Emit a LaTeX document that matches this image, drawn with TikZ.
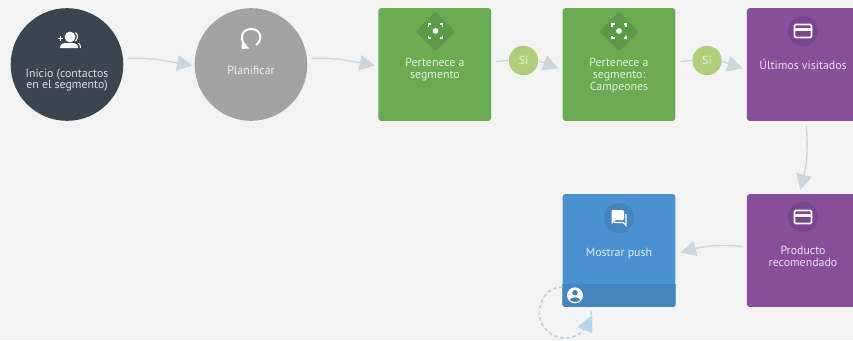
\documentclass[tikz,border=0pt]{standalone}
\usepackage{fontspec}
\setmainfont{PT Sans}
\usetikzlibrary{arrows.meta,shapes.geometric,calc}
\definecolor{bgc}{HTML}{F3F3F3}
\definecolor{darkc}{HTML}{3B454E}
\definecolor{greyc}{HTML}{A3A3A3}
\definecolor{greenc}{HTML}{6AAB51}
\definecolor{greend}{HTML}{5B9A48}
\definecolor{purplec}{HTML}{874F99}
\definecolor{purpled}{HTML}{7A4590}
\definecolor{bluec}{HTML}{4B91D1}
\definecolor{blued}{HTML}{4585BE}
\definecolor{yesc}{HTML}{AFCF7C}
\definecolor{linec}{HTML}{CDD6DC}
\definecolor{loopc}{HTML}{C3D2DA}
\definecolor{headc}{HTML}{B3D8E8}
\tikzset{
  x=0.75pt,y=-0.75pt,
  circ/.style={circle,draw=none,minimum size=84.5pt,inner sep=0pt},
  card/.style={rectangle,draw=none,minimum width=84.5pt,minimum height=84.5pt,inner sep=0pt,rounded corners=2pt},
  lab/.style={align=center,text=white,text opacity=.82,font=\fontsize{8.9}{8.8}\selectfont,inner sep=0pt},
  yes/.style={circle,draw=none,fill=yesc,minimum size=22pt,inner sep=0pt,text=white,text opacity=.7,font=\fontsize{8.7}{9}\selectfont},
  conn/.style={draw=linec,line width=1pt,-{Triangle[length=11.5pt,width=11.5pt,fill=linec]}},
  connb/.style={draw=linec,line width=1pt},
  badge/.style={circle,draw=none,minimum size=22.5pt,inner sep=0pt},
  gem/.style={diamond,draw=none,fill=greend,minimum width=29.5pt,minimum height=29.5pt,inner sep=0pt,rounded corners=1pt},
  ico/.style={draw=white,line width=1pt},
}
\newcommand{\cardicon}[1]{%
  \begin{scope}[shift={(#1)}]
    \draw[white,line width=1.2pt,rounded corners=1pt] (-8.5,-6.5) rectangle (8.5,6.5);
    \fill[white] (-8.5,-3.5) rectangle (8.5,0);
  \end{scope}}
\newcommand{\targeticon}[1]{%
  \begin{scope}[shift={(#1)}]
    \fill[white] (0,0) circle (2.9);
    \draw[ico] (-7,-4.5) -- (-7,-7) -- (-4.5,-7);
    \draw[ico] (7,-4.5) -- (7,-7) -- (4.5,-7);
    \draw[ico] (-7,4.5) -- (-7,7) -- (-4.5,7);
    \draw[ico] (7,4.5) -- (7,7) -- (4.5,7);
  \end{scope}}
\begin{document}
\begin{tikzpicture}
\useasboundingbox (0,0) rectangle (853,340);
\clip (0,0) rectangle (853,340);
\fill[bgc] (0,0) rectangle (853,340);

% main shapes
\node[circ,fill=darkc] (start) at (67,64.5) {};
\node[circ,fill=greyc] (plan) at (251,64.5) {};
\node[card,fill=greenc] (seg1) at (434.7,64.5) {};
\node[card,fill=greenc] (seg2) at (619,64.5) {};
\node[card,fill=purplec] (last) at (803.3,64.5) {};
\node[card,fill=purplec] (prod) at (803.3,250.5) {};
\node[card,fill=bluec] (push) at (619,250.5) {};
\begin{scope}
  \clip[rounded corners=2pt] (push.south west) rectangle (push.north east);
  \fill[blued] (push.south west) rectangle ($(push.south east)+(0,-23)$);
\end{scope}

% icon plates
\node[gem] (gem1) at (435.5,31.5) {};
\node[gem] (gem2) at (619,31.5) {};
\node[badge,fill=purpled] (bl) at (803,31) {};
\node[badge,fill=purpled] (bp) at (803,217) {};
\node[badge,fill=blued] (bm) at (619,218) {};

% icons
\targeticon{435.5,31}
\targeticon{619,31}
\cardicon{803,31}
\cardicon{803,217}
% contacts icon
\fill[white] (70,37) circle (5.4);
\fill[white] (60,48) .. controls (60,42.5) and (64,43) .. (70,43) .. controls (75,43) and (78,43.5) .. (78,48) -- cycle;
\draw[white,line width=0.8pt] (75.5,32.5) .. controls (78,34) and (78,39) .. (75.5,41);
\draw[white,line width=0.8pt] (78.5,43) .. controls (80,44) and (80.5,46) .. (80.5,48);
\draw[white,line width=0.9pt] (57.5,38.5) -- (63,38.5) (60.2,35.8) -- (60.2,41.2);
% replan icon
\draw[white,line width=1.5pt] (246,45.5) .. controls (240,42) and (240,29) .. (251,29) .. controls (262,29) and (262.5,41) .. (256,45);
\fill[white] (241.5,49) -- (242,41.5) -- (249.5,48.5) -- cycle;
% push icon
\fill[white,rounded corners=0.8pt] (611.5,210) rectangle (624,220);
\fill[white] (611.5,219) -- (611.5,224) -- (616,220) -- cycle;
\draw[white,line width=0.9pt] (626,214) -- (626,225.5) -- (623,222.5) -- (614,222.5);
% user icon
\fill[white] (575,295.3) circle (8);
\fill[bluec!88!black] (575,292.7) circle (2.7);
\fill[bluec!88!black] (569.8,300) .. controls (570.5,296.5) and (579.5,296.5) .. (580.2,300) .. controls (578,302.5) and (572,302.5) .. (569.8,300) -- cycle;

% labels
\node[lab] (t1) at (67,80) {Inicio (contactos\\en el segmento)};
\node[lab] (t2) at (251,70) {Planificar};
\node[lab] (t3) at (435,69.5) {Pertenece a\\segmento};
\node[lab] (t4) at (619,75.5) {Pertenece a\\segmento:\\Campeones};
\node[lab] (t5) at (803,64) {Últimos visitados};
\node[lab] (t6) at (803,256) {Producto\\recomendado};
\node[lab] (t7) at (619,253.5) {Mostrar push};

% connectors
\draw[conn] ([shift={(4,-6)}]start.east) .. controls ([shift={(25,-7)}]start.east) and ([shift={(40,-4)}]start.east) .. ([shift={(-2,1)}]plan.west);
\draw[conn] ([shift={(4,-6)}]plan.east) .. controls ([shift={(25,-7)}]plan.east) and ([shift={(40,-4)}]plan.east) .. ([shift={(-3,1)}]seg1.west);
\node[yes] (y1) at (523.5,60.5) {Sí};
\node[yes] (y2) at (707,60.5) {Sí};
\draw[connb] ([shift={(5,-3)}]seg1.east) -- (y1.west);
\draw[connb] ([shift={(5,-3)}]seg2.east) -- (y2.west);
\draw[conn] ([shift={(0,1)}]y1.east) .. controls ([shift={(5,1)}]y1.east) and ([shift={(10,4)}]y1.east) .. ([shift={(-4,4)}]seg2.west);
\draw[conn] ([shift={(0,1)}]y2.east) .. controls ([shift={(4,1)}]y2.east) and ([shift={(8,4)}]y2.east) .. ([shift={(-4,4)}]last.west);
\draw[conn] ([shift={(3,5)}]last.south) .. controls ([shift={(5,30)}]last.south) and ([shift={(3,45)}]last.south) .. ([shift={(-3,-4)}]prod.north);
\draw[conn] ([shift={(-4,-4)}]prod.west) .. controls ([shift={(-25,-6)}]prod.west) and ([shift={(-40,-5)}]prod.west) .. ([shift={(5,2)}]push.east);

% self loop
\coordinate (lstart) at ($(push.south west)+(0,-20)$);
\coordinate (lend) at ($(push.south west)+(29,3)$);
\draw[loopc,line width=1.3pt,dash pattern=on 2.6pt off 2pt] (lstart) .. controls ($(lstart)+(-14,-1)$) and ($(lstart)+(-23,13)$) .. ($(lstart)+(-23,26)$) .. controls ($(lstart)+(-23,41)$) and ($(lstart)+(-10,51)$) .. ($(lstart)+(3,51)$) .. controls ($(lstart)+(18,51)$) and ($(lstart)+(29,38)$) .. (lend);
\fill[headc] ($(push.south west)+(15,20)$) -- ($(push.south west)+(30,8)$) -- ($(push.south west)+(30,26)$) -- cycle;
\end{tikzpicture}
\end{document}
